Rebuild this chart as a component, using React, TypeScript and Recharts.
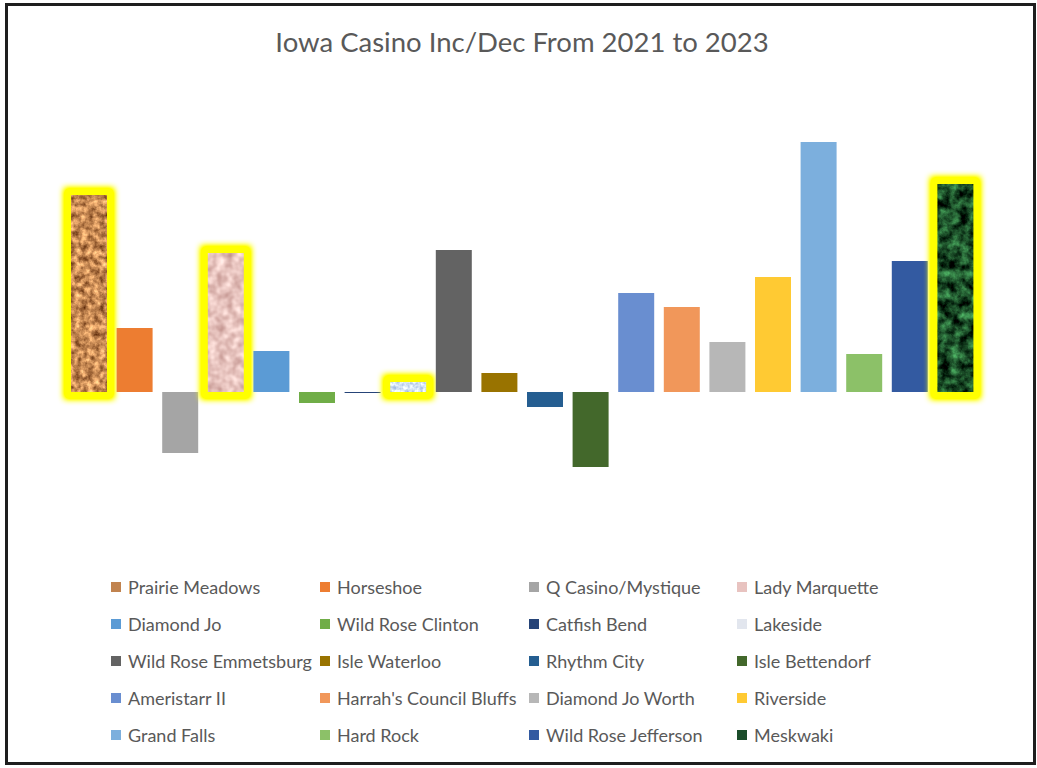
import React from "react";
import { BarChart, Bar, XAxis, YAxis } from "recharts";

// one category, one bar per casino (each casino is its own series)
const casinoNames = [
  "Prairie Meadows",
  "Horseshoe",
  "Q Casino/Mystique",
  "Lady Marquette",
  "Diamond Jo",
  "Wild Rose Clinton",
  "Catfish Bend",
  "Lakeside",
  "Wild Rose Emmetsburg",
  "Isle Waterloo",
  "Rhythm City",
  "Isle Bettendorf",
  "Ameristarr II",
  "Harrah's Council Bluffs",
  "Diamond Jo Worth",
  "Riverside",
  "Grand Falls",
  "Hard Rock",
  "Wild Rose Jefferson",
  "Meskwaki",
];

const changeValues = [
  197, 64, -61, 139, 41, -11, -1, 10, 142, 19, -15, -75, 99, 85, 50, 115, 250, 38, 131, 208,
];

const seriesColors = [
  "#C1834F", "#ED7D31", "#A5A5A5", "#E8C3C0", "#5B9BD5", "#70AD47", "#264478", "#E2E6EE",
  "#636363", "#997300", "#255E91", "#43682B", "#698ED0", "#F1975A", "#B7B7B7", "#FFCA33",
  "#7CAFDD", "#8CC168", "#335AA1", "#1B4D2A",
];

// highlighted (glowing, textured) bars -> filter id
const highlighted: Record<string, string> = {
  "Prairie Meadows": "tex-brown",
  "Lady Marquette": "tex-pink",
  Lakeside: "tex-ice",
  Meskwaki: "tex-green",
};

const chartData = [
  casinoNames.reduce<Record<string, number | string>>(
    (row, name, i) => {
      row[name] = changeValues[i];
      return row;
    },
    { period: "2021 to 2023" },
  ),
];

const TEXT_COLOR = "#595959";
const FONT = "Lato, 'Open Sans', sans-serif";

function textureFilter(id: string, matrix: string, freq: string, octaves: number, type = "fractalNoise") {
  return (
    <filter
      id={id}
      key={id}
      filterUnits="userSpaceOnUse"
      x={-100}
      y={-100}
      width={1300}
      height={1000}
      colorInterpolationFilters="sRGB"
    >
      <feTurbulence type={type} baseFrequency={freq} numOctaves={octaves} seed={3} result="noise" />
      <feColorMatrix in="noise" type="matrix" values={matrix} result="tinted" />
      <feComposite in="tinted" in2="SourceAlpha" operator="in" result="texture" />
      <feMorphology in="SourceAlpha" operator="dilate" radius={7} result="grown" />
      <feGaussianBlur in="grown" stdDeviation={3.2} result="soft" />
      <feFlood floodColor="#FFFF00" result="yellow" />
      <feComposite in="yellow" in2="soft" operator="in" result="glowRaw" />
      <feComponentTransfer in="glowRaw" result="glow">
        <feFuncA type="linear" slope={1.9} />
      </feComponentTransfer>
      <feMerge>
        <feMergeNode in="glow" />
        <feMergeNode in="texture" />
      </feMerge>
    </filter>
  );
}

const makeGlowShape = (filterId: string) => (props: any) => {
  const { x, y, width, height } = props;
  const top = Math.min(y, y + height);
  const h = Math.abs(height);
  return <rect x={x} y={top} width={width} height={h} fill="#000" filter={`url(#${filterId})`} />;
};

const legendColumns = [111, 320, 529, 737];
const legendRowCenters = [587, 624, 661, 698, 735];

export default function App() {
  return (
    <div style={{ position: "absolute", left: 0, top: 0, width: 1037, height: 768, background: "#fff", fontFamily: FONT }}>
      <div
        style={{
          position: "absolute",
          left: 5,
          top: 3,
          width: 1031,
          height: 762,
          border: "3px solid #1e1e1e",
          boxSizing: "border-box",
        }}
      />
      <div
        style={{
          position: "absolute",
          left: 0,
          top: 26,
          width: 1044,
          textAlign: "center",
          fontSize: 27.5,
          color: TEXT_COLOR,
          lineHeight: "32px",
        }}
      >
        Iowa Casino Inc/Dec From 2021 to 2023
      </div>

      <div style={{ position: "absolute", left: 0, top: 0 }}>
        <BarChart
          width={1037}
          height={768}
          data={chartData}
          margin={{ top: 92, right: 54, bottom: 276, left: 61 }}
          barGap={9.6}
        >
          <defs>
            {textureFilter(
              "tex-brown",
              "1.0 0 0 0 0.28  0.9 0 0 0 0.09  0.7 0 0 0 -0.02  0 0 0 0 1",
              "0.16",
              4,
            )}
            {textureFilter(
              "tex-pink",
              "0.35 0 0 0 0.73  0.45 0 0 0 0.54  0.45 0 0 0 0.52  0 0 0 0 1",
              "0.12",
              2,
            )}
            {textureFilter(
              "tex-ice",
              "0.6 0 0 0 0.53  0.5 0 0 0 0.64  0.25 0 0 0 0.83  0 0 0 0 1",
              "0.3",
              2,
            )}
            {textureFilter(
              "tex-green",
              "0.55 0 0 0 -0.17  1.1 0 0 0 -0.25  0.65 0 0 0 -0.17  0 0 0 0 1",
              "0.1",
              5,
            )}
          </defs>
          <XAxis dataKey="period" hide />
          <YAxis hide domain={[-100, 300]} />
          {casinoNames.map((name, i) => (
            <Bar
              key={name}
              dataKey={name}
              fill={seriesColors[i]}
              barSize={36}
              isAnimationActive={false}
              shape={highlighted[name] ? makeGlowShape(highlighted[name]) : undefined}
            />
          ))}
        </BarChart>
      </div>

      {casinoNames.map((name, i) => {
        const col = i % 4;
        const row = Math.floor(i / 4);
        return (
          <div
            key={name}
            style={{
              position: "absolute",
              left: legendColumns[col],
              top: legendRowCenters[row] - 12,
              height: 24,
              display: "flex",
              alignItems: "center",
              whiteSpace: "nowrap",
              fontSize: 18,
              color: TEXT_COLOR,
            }}
          >
            <span
              style={{
                display: "inline-block",
                width: 10,
                height: 10,
                background: seriesColors[i],
                marginRight: 7,
              }}
            />
            {name}
          </div>
        );
      })}
    </div>
  );
}
